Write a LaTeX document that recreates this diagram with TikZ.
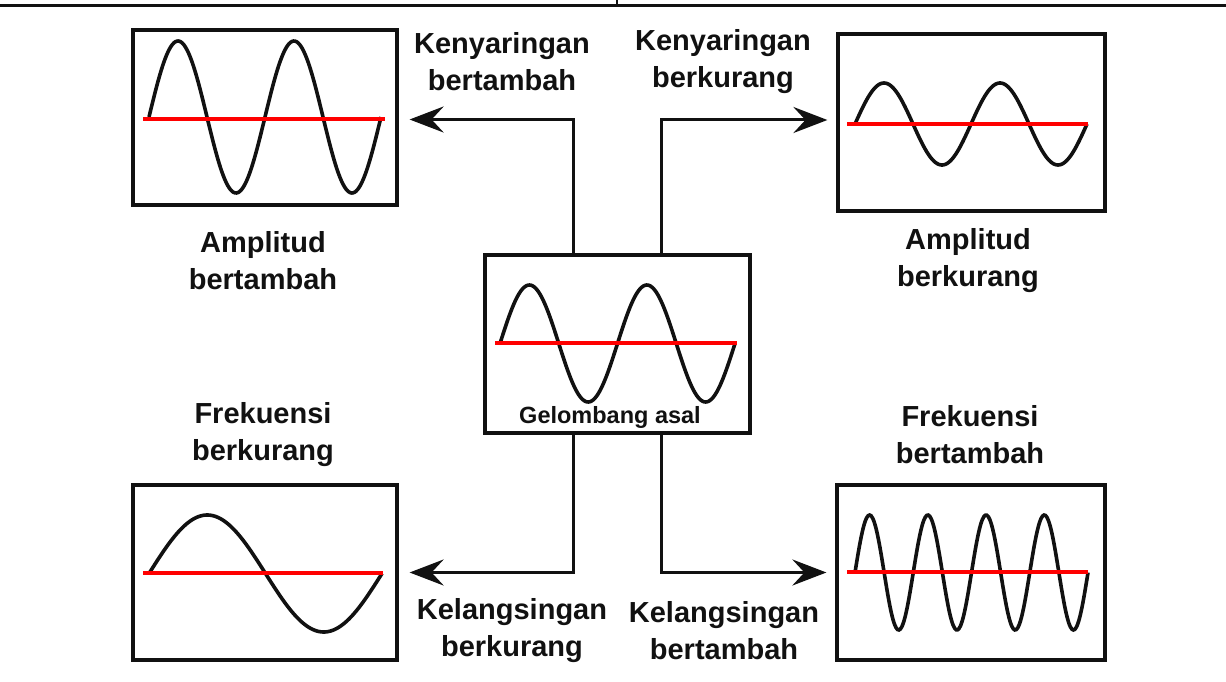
\documentclass[tikz,border=0pt]{standalone}
\usepackage{fontspec}
\setmainfont{Liberation Sans}
\usepackage{xcolor}
\definecolor{ink}{HTML}{111111}
\definecolor{axisred}{HTML}{FF0000}
\usepackage{tikz}
\usetikzlibrary{arrows.meta,positioning,calc}
% one sine wave across a box: x0, x1, centre y, amplitude, periods
\newcommand{\sinewave}[5]{%
  \draw[wave] plot[domain=#1:#2, samples=160, smooth] (\x, {#3-#4*sin((\x-#1)/(#2-#1)*#5*360)});
}

\begin{document}
\begin{tikzpicture}[
  x=1pt, y=-1pt,
  font=\fontsize{29}{37}\selectfont\bfseries,
  wavebox/.style={draw=ink, line width=3.2pt, rectangle, inner sep=0pt},
  wave/.style={ink, line width=3.6pt},
  midline/.style={axisred, line width=4pt},
  arr/.style={-{Stealth[length=34pt, width=26pt, inset=12pt]}, line width=3pt, ink},
  lbl/.style={align=center, inner sep=0pt, text=ink}
]
\useasboundingbox (0,0) rectangle (1226,682);

% cut-off rule at the top
\draw[ink, line width=3.5pt] (0,5.5) -- (1226,5.5);
\draw[ink, line width=1.5pt] (617,0) -- (617,5.5);

% Boxes
\node[wavebox, minimum width=264pt, minimum height=175pt] (ampup) at (265,117.5) {};
\node[wavebox, minimum width=267pt, minimum height=177pt] (ampdown) at (971.5,122.5) {};
\node[wavebox, minimum width=265pt, minimum height=178pt] (orig) at (617.5,344) {};
\node[wavebox, minimum width=264pt, minimum height=175pt] (freqdown) at (265,572.5) {};
\node[wavebox, minimum width=268pt, minimum height=175pt] (frequp) at (971,572.5) {};

% Waves and mid lines
\sinewave{149}{381}{117}{76}{2}
\draw[midline] (143,119) -- (385,119);
\sinewave{855}{1087}{124}{41}{2}
\draw[midline] (847,124) -- (1088,124);
\sinewave{500}{735}{343.5}{58.5}{2}
\draw[midline] (495,343) -- (737,343);
\sinewave{149}{382}{573.5}{58.5}{1}
\draw[midline] (143,573) -- (383,573);
\sinewave{855}{1088}{572.5}{57.5}{4}
\draw[midline] (847,572) -- (1088,572);

\node[lbl, font=\fontsize{23.5}{28}\selectfont\bfseries] (origlbl) at (610,417) {Gelombang asal};

% Connectors
\draw[arr] ([xshift=-44pt]orig.north) |- ([xshift=11pt,yshift=-2pt]ampup.east);
\draw[arr] ([xshift=44pt]orig.north) |- ([xshift=-9pt,yshift=2.5pt]ampdown.west);
\draw[arr] ([xshift=-44pt]orig.south) |- ([xshift=11pt]freqdown.east);
\draw[arr] ([xshift=44pt]orig.south) |- ([xshift=-9pt]frequp.west);

% Labels
\node[lbl] (loudup) at (502,62) {Kenyaringan\\bertambah};
\node[lbl] (louddown) at (723,62) {Kenyaringan\\berkurang};
\node[lbl] (ampuplbl) at (263,261) {Amplitud\\bertambah};
\node[lbl] (ampdownlbl) at (968,261) {Amplitud\\berkurang};
\node[lbl] (freqdownlbl) at (263,435) {Frekuensi\\berkurang};
\node[lbl] (frequplbl) at (970,435) {Frekuensi\\bertambah};
\node[lbl] (pitchdown) at (512,631) {Kelangsingan\\berkurang};
\node[lbl] (pitchup) at (724,631) {Kelangsingan\\bertambah};

\end{tikzpicture}
\end{document}
